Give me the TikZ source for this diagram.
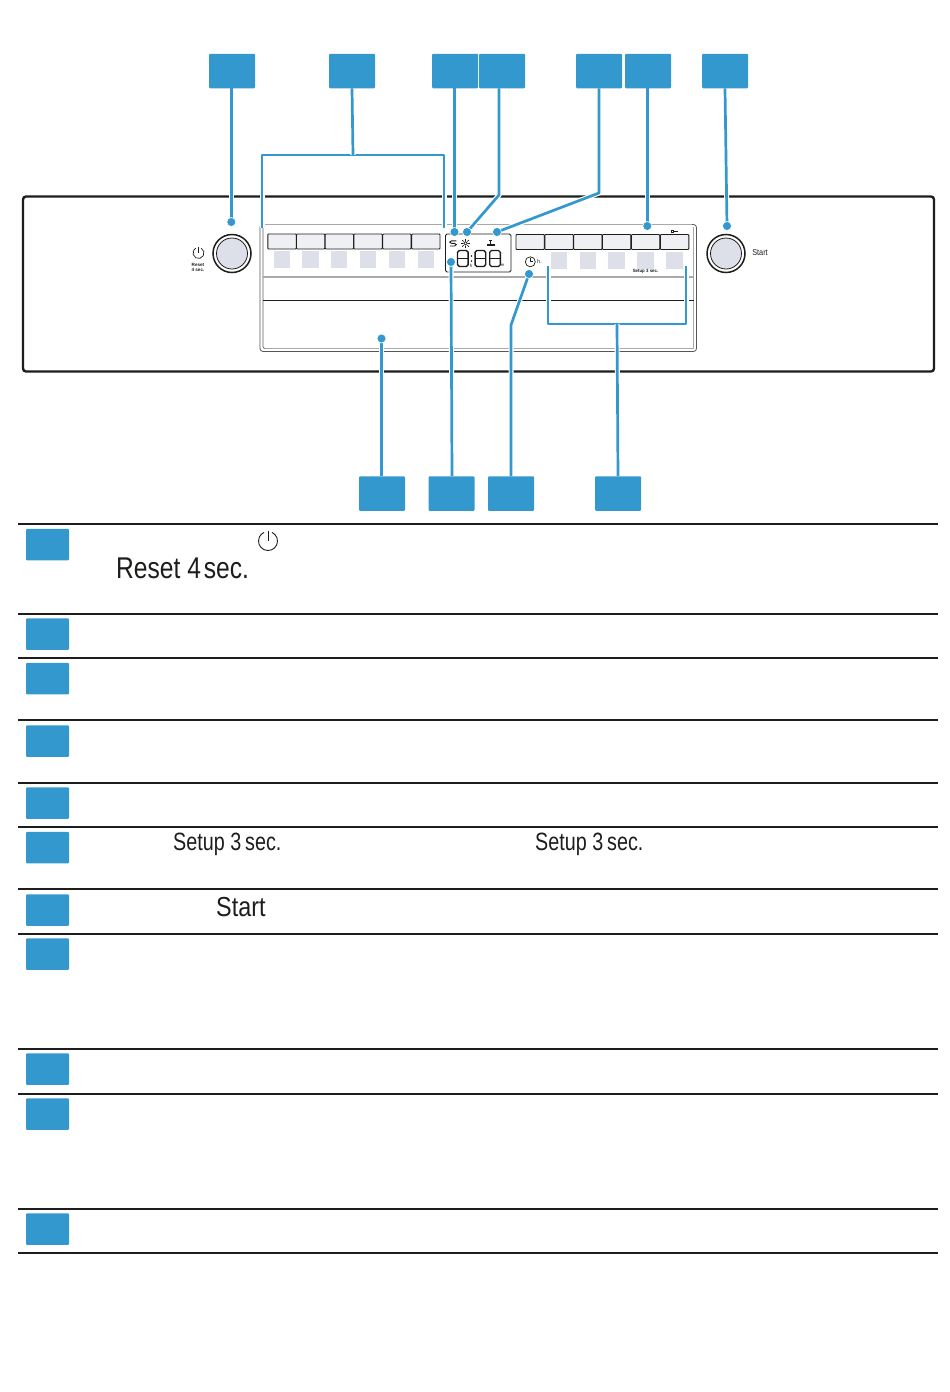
\documentclass[tikz,border=0pt]{standalone}
\usepackage{graphicx}
\usepackage{fontspec}
\setmainfont{Liberation Sans}
\pgfdeclarelayer{panel}
\pgfdeclarelayer{conn}
\pgfsetlayers{panel,conn,main}
\definecolor{lblue}{HTML}{3398CD}
\definecolor{keyfill}{HTML}{EEF0F4}
\definecolor{padfill}{HTML}{DDE0E8}
\definecolor{ink}{HTML}{1D1D1B}
\definecolor{edge}{HTML}{A9A9A9}
\newcommand\condtxt[3]{\scalebox{#1}[1]{\fontsize{#2}{#2}\selectfont #3}}
\tikzset{
  x=1pt,y=-1pt,
  lbl/.style={fill=lblue,draw=none,rounded corners=1pt,minimum width=46pt,minimum height=34.5pt,inner sep=0pt},
  rowlbl/.style={fill=lblue,draw=none,rounded corners=1pt,minimum width=43pt,minimum height=31.5pt,inner sep=0pt},
  dotmark/.style={circle,fill=lblue,draw=white,line width=.6pt,minimum size=9pt,inner sep=0pt},
  conn/.style={draw=lblue,line width=2.7pt,line join=round,preaction={draw=white,line width=5pt}},
  rowline/.style={draw=ink,line width=1.7pt},
  keycap/.style={fill=keyfill,draw=ink,line width=.9pt,rounded corners=.8pt,minimum width=28.4pt,minimum height=15pt,inner sep=0pt},
  pad/.style={fill=padfill,draw=none,minimum width=16.5pt,minimum height=17pt,inner sep=0pt},
  txt/.style={inner sep=0pt,text=ink,anchor=base west},
  tiny/.style={inner sep=0pt,text=ink},
  icon/.style={draw=ink,line width=.7pt},
  digitseg/.style={draw=ink,line width=1.4pt,rounded corners=1.8pt}
}
\begin{document}
\begin{tikzpicture}
\useasboundingbox (0,0) rectangle (950,1392);
\begin{pgfonlayer}{panel}
\fill[white] (0,0) rectangle (950,1392);
% appliance outline
\draw[draw=ink,line width=2.4pt,rounded corners=3pt] (23,196.5) rectangle (934,371.5);
% control panel
\draw[draw=ink!75,line width=.8pt,rounded corners=3pt] (264,224.5) -- (260,224.5) -- (260,351.5) -- (696.5,351.5) -- (696.5,224.5) -- (264,224.5);
\draw[draw=edge,line width=1.2pt] (264,224.8) -- (692,224.8);
\draw[draw=ink!70,line width=.7pt,rounded corners=2pt] (263,226.5) -- (263,348.5) -- (300,348.5);
\draw[draw=edge,line width=1.6pt] (265,348.3) -- (693,348.3);
\draw[draw=edge,line width=.8pt] (693.5,226.5) -- (693.5,348.5);
\draw[draw=edge,line width=1.5pt] (263,276.8) -- (693.5,276.8);
\draw[draw=ink,line width=1pt] (263,300.5) -- (693.5,300.5);
% display
\draw[draw=ink,fill=white,line width=.8pt,rounded corners=1.5pt] (445.5,234) rectangle (511,272);
\end{pgfonlayer}

% key row left
\foreach \n/\cx in {1/282,2/310.7,3/339.4,4/368,5/396.8,6/425.8}{
  \node[keycap] (kl\n) at (\cx,241.5) {};
}
\foreach \n/\cx in {1/282,2/310.7,3/339,4/368,5/397,6/426}{
  \node[pad] (pl\n) at (\cx,259.5) {};
}
% key row right
\foreach \n/\cx in {1/530.2,2/559,3/587.8,4/616.6,5/645.6,6/674.6}{
  \node[keycap] (kr\n) at (\cx,242) {};
}
\foreach \n/\cx in {1/559,2/588,3/616.5,4/645.5,5/674.5}{
  \node[pad] (pr\n) at (\cx,260) {};
}

% knobs
\foreach \n/\cx in {reset/232,start/726}{
  \node[circle,draw=ink,line width=1.5pt,fill=white,minimum size=38pt,inner sep=0pt] (knob\n) at (\cx,253.5) {};
  \node[circle,draw=ink,line width=.8pt,fill=padfill,minimum size=31pt,inner sep=0pt] (knobin\n) at (\cx,253.5) {};
}

% panel icons and small labels
\coordinate (pwsmall) at (198.5,253);
\draw[icon] (pwsmall) ++(-60:5.5) arc[start angle=-60,end angle=240,radius=5.5];
\draw[icon] (198.5,246.5) -- (198.5,253);
\node[tiny] (resetA) at (198,265) {\condtxt{1}{4.6}{\bfseries Reset}};
\node[tiny] (resetB) at (198,270.2) {\condtxt{1}{4.6}{\bfseries 4 sec.}};
\node[tiny] (startsmall) at (760,252.5) {\condtxt{.85}{8.6}{Start}};
\node[tiny] (setupsmall) at (645.5,271.3) {\condtxt{.95}{4.6}{\bfseries Setup 3 sec.}};
\node[tiny] (hsmall) at (539.5,261.8) {\condtxt{1}{5.5}{h.}};
% clock
\node[circle,draw=ink,line width=.7pt,minimum size=10pt,inner sep=0pt] (clock) at (530.3,261.8) {};
\draw[icon] (530.3,258.4) -- (530.3,261.8) -- (533,261.8);
% program sync icon
\draw[icon,line width=.9pt] (456.3,240.8) -- (451.5,240.8) .. controls (449,240.8) and (449,243.3) .. (451.5,243.3) -- (454.5,243.3) .. controls (457,243.3) and (457,246) .. (454.5,246) -- (449.8,246);
% sun
\node[circle,draw=ink,line width=.7pt,minimum size=3.6pt,inner sep=0pt] (sun) at (465.5,243.4) {};
\foreach \a in {0,45,...,315}{\draw[icon,line width=.6pt] (sun) ++(\a:2.6) -- ++(\a:2.1);}
% tap
\draw[draw=ink,line width=1.2pt] (490.5,240.5) -- (490.5,243.5);
\draw[draw=ink,line width=1.6pt] (487,245.2) -- (494.5,245.2);
\draw[draw=ink,line width=.7pt] (488.8,240.3) -- (492.2,240.3);
% key
\draw[icon,line width=.5pt] (671,230) rectangle (673.5,232);
\draw[icon,line width=.5pt] (673.5,231) -- (677.5,231);
% digits
\foreach \cx in {462.8,480.4,495}{
  \draw[digitseg] (\cx-5.3,250.5) rectangle (\cx+5.3,266.5);
  \draw[draw=ink,line width=1.2pt] (\cx-5.3,258.5) -- (\cx+5.3,258.5);
}
\fill[ink] (471.5,256) circle[radius=.8] (471.5,261) circle[radius=.8];
\node[tiny] (dispH) at (471,265.5) {\condtxt{1}{4.5}{h}};
\node[tiny] (dispM) at (502.5,265.5) {\condtxt{1}{4.2}{m}};

% top labels
\node[lbl] (t1) at (232,71) {};
\node[lbl] (t2) at (352,71) {};
\node[lbl] (t3) at (455,71) {};
\node[lbl] (t4) at (502,71) {};
\node[lbl] (t5) at (599,71) {};
\node[lbl] (t6) at (648,71) {};
\node[lbl] (t7) at (725,71) {};
% bottom labels
\node[lbl] (b1) at (382,493.5) {};
\node[lbl] (b2) at (451.5,493.5) {};
\node[lbl] (b3) at (511,493.5) {};
\node[lbl] (b4) at (618,493.5) {};
% dots
\node[dotmark] (d1) at (231.3,222) {};
\node[dotmark] (d3) at (454.5,232) {};
\node[dotmark] (d4) at (467,232) {};
\node[dotmark] (d5) at (497,232) {};
\node[dotmark] (d6) at (647.3,226) {};
\node[dotmark] (d7) at (727,226) {};
\node[dotmark] (d8) at (381.5,338.5) {};
\node[dotmark] (d9) at (451,262) {};
\node[dotmark] (d10) at (529,274) {};
% free ends of brackets
\coordinate (b2l) at (262,228);
\coordinate (b2r) at (444,228);
\coordinate (b2tl) at (262,155);
\coordinate (b2tr) at (444,155);
\coordinate (b2m) at (353,155);
\coordinate (b4l) at (548,266);
\coordinate (b4r) at (686,266);
\coordinate (b4bl) at (548,324);
\coordinate (b4br) at (686,324);
\coordinate (b4m) at (617,324);
\coordinate (k4) at (499,195);
\coordinate (k5) at (599,193);
\coordinate (k10) at (511,325);

\begin{pgfonlayer}{conn}
\draw[conn] (t1.south -| d1) -- (d1.center);
\draw[conn] (b2l) -- (b2tl) -- (b2tr) -- (b2r);
\draw[conn] (t2.south) -- (b2m);
\draw[conn] (t3.south -| d3) -- (d3.center);
\draw[conn] (t4.south -| k4) -- (k4) -- (d4.center);
\draw[conn] (t5.south -| k5) -- (k5) -- (d5.center);
\draw[conn] (t6.south -| d6) -- (d6.center);
\draw[conn] (t7.south) -- (d7.center);
\draw[conn] (b1.north -| d8) -- (d8.center);
\draw[conn] (b2.north -| 452,0) -- (d9.center);
\draw[conn] (b3.north) -- (k10) -- (d10.center);
\draw[conn] (b4l) -- (b4bl) -- (b4br) -- (b4r);
\draw[conn] (b4.north) -- (b4m);
\end{pgfonlayer}

% table rules
\foreach \n/\ry in {1/524,2/614,3/658,4/720,5/783,6/827,7/889,8/934,9/1049,10/1094,11/1209,12/1253}{
  \coordinate (rl\n) at (18,\ry);
  \coordinate (rr\n) at (938,\ry);
  \draw[rowline] (rl\n) -- (rr\n);
}
% table labels
\foreach \n/\ry in {1/544.5,2/634,3/678.5,4/741,5/803,6/847.5,7/910,8/954,9/1069,10/1114,11/1229}{
  \node[rowlbl] (r\n) at (47.5,\ry) {};
}
% table text
\coordinate (pw) at (268,541);
\draw[draw=ink,line width=.9pt] (pw) ++(-65:9.5) arc[start angle=-65,end angle=245,radius=9.5];
\draw[draw=ink,line width=.9pt] (268,530.5) -- (268,541);
\node[txt] (reset) at (116,578) {\condtxt{.82}{30}{Reset 4\hspace{.12em}sec.}};
\node[txt] (setupa) at (173,850) {\condtxt{.79}{25}{Setup 3\hspace{.2em}sec.}};
\node[txt] (setupb) at (535,850) {\condtxt{.79}{25}{Setup 3\hspace{.2em}sec.}};
\node[txt] (start) at (216,916) {\condtxt{.85}{27.5}{Start}};
\end{tikzpicture}
\end{document}
